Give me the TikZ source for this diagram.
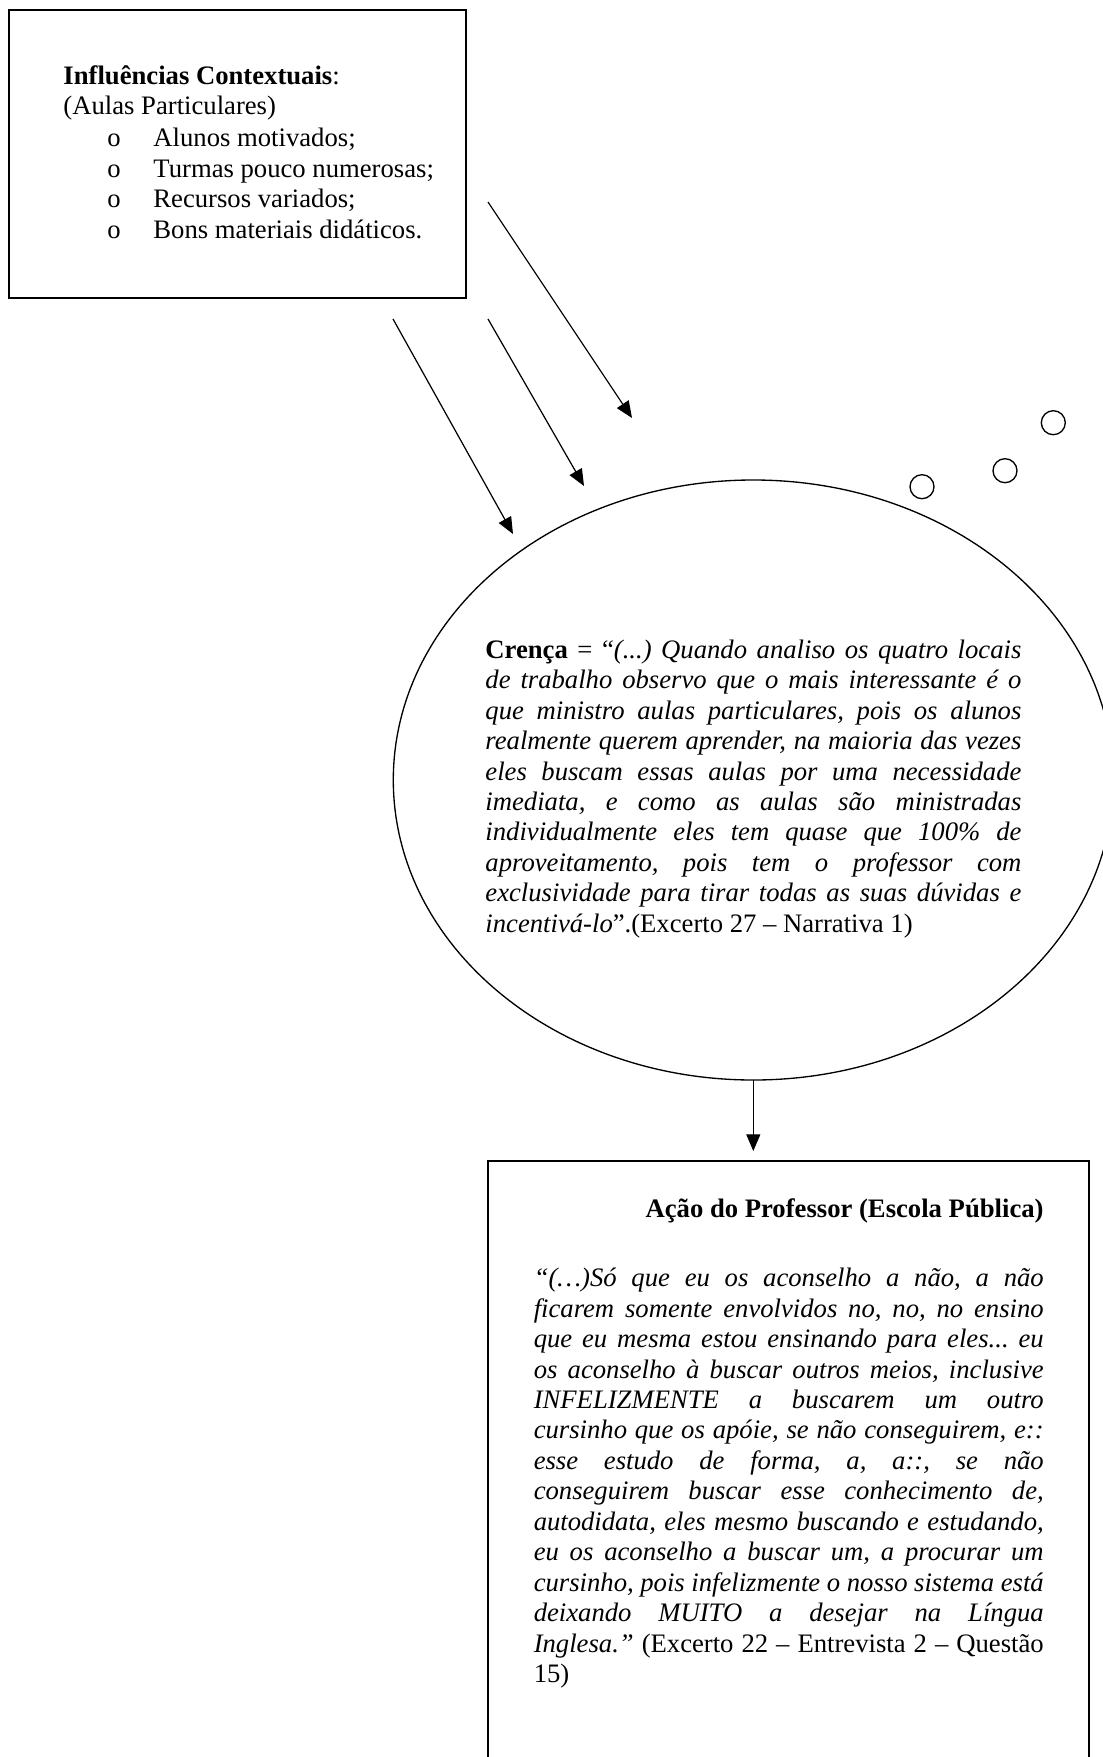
\documentclass[tikz,border=0pt]{standalone}
\usepackage{fontspec}
\setmainfont{Liberation Serif}
\usetikzlibrary{arrows.meta,shapes.geometric}

\frenchspacing
\tolerance=10000
\hbadness=10000
\hyphenpenalty=10000
\exhyphenpenalty=10000

\tikzset{
	caixa/.style={draw,line width=0.75pt,inner sep=0pt,outer sep=0pt},
	nuvem/.style={draw,ellipse,line width=0.6pt,inner sep=0pt,outer sep=0pt},
	bolha/.style={draw,circle,line width=0.6pt,inner sep=0pt,minimum size=10.8pt},
	seta/.style={-{Triangle[length=7.5pt,width=6.3pt]},line width=0.55pt},
	texto/.style={inner sep=0pt,font=\fontsize{12}{13.7}\selectfont},
	paragrafo/.style={texto,align=justify,anchor=base west}
}

\begin{document}
\begin{tikzpicture}[x=0.45pt,y=-0.45pt]

\def\LARGURA{1103}
\def\ALTURA{1757}
	\useasboundingbox (0,0) rectangle (\LARGURA,\ALTURA);
	\clip (0,0) rectangle (\LARGURA,\ALTURA);

	\node[caixa,minimum width=205.65pt,minimum height=129.6pt] (contexto) at (237.5,154) {};
	\node[texto,anchor=base west] (influencias) at (63,85) {\textbf{Influências Contextuais}:};
	\node[texto,anchor=base west] (aulas) at (63,115) {(Aulas Particulares)};
	\foreach \y/\txt [count=\i] in {147/Alunos motivados;,177/Turmas pouco numerosas;,207/Recursos variados;,238/Bons materiais didáticos.}{
		\node[texto,anchor=base west] (marca\i) at (107,\y) {o};
		\node[texto,anchor=base west] (item\i) at (153,\y) {\txt};
	}

	\coordinate (ini1) at (488,202);
	\coordinate (fim1) at (632,418);
	\coordinate (ini2) at (488,319);
	\coordinate (fim2) at (584,486);
	\coordinate (ini3) at (393,319);
	\coordinate (fim3) at (513,534);
	\draw[seta] (ini1) -- (fim1);
	\draw[seta] (ini2) -- (fim2);
	\draw[seta] (ini3) -- (fim3);

	\node[nuvem,minimum width=324pt,minimum height=270pt] (crenca) at (753.3,780) {};
	\node[bolha] (bolha1) at (922,486.7) {};
	\node[bolha] (bolha2) at (1005,470.7) {};
	\node[bolha] (bolha3) at (1053.3,422.7) {};

	\node[paragrafo,text width=241.2pt] (crencatexto) at (485,658.3) {\textbf{Crença} = “\textit{(...) Quando analiso os quatro locais\linebreak
de trabalho observo que o mais interessante é o\linebreak
que ministro aulas particulares, pois os alunos\linebreak
realmente querem aprender, na maioria das vezes\linebreak
eles buscam essas aulas por uma necessidade\linebreak
imediata, e como as aulas são ministradas\linebreak
individualmente eles tem quase que 100\% de\linebreak
aproveitamento, pois tem o professor com\linebreak
exclusividade para tirar todas as suas dúvidas e\linebreak
incentivá-lo}”.(Excerto 27 -- Narrativa 1)};

	\node[caixa,minimum width=270.3pt,minimum height=290pt,anchor=north] (acao) at (788.65,1161) {};
	\draw[seta,shorten >=4.5pt] (crenca.south) -- (crenca.south |- acao.north);

	\node[texto,anchor=base east] (acaotitulo) at (1044,1217) {\textbf{Ação do Professor (Escola Pública)}};
	\node[paragrafo,text width=229.5pt] (acaotexto) at (533.3,1286.7) {\textit{“(…)Só que eu os aconselho a não, a não\linebreak
ficarem somente envolvidos no, no, no ensino\linebreak
que eu mesma estou ensinando para eles... eu\linebreak
os aconselho à buscar outros meios, inclusive\linebreak
INFELIZMENTE a buscarem um outro\linebreak
cursinho que os apóie, se não conseguirem, e::\linebreak
esse estudo de forma, a, a::, se não\linebreak
conseguirem buscar esse conhecimento de,\linebreak
autodidata, eles mesmo buscando e estudando,\linebreak
eu os aconselho a buscar um, a procurar um\linebreak
cursinho, pois infelizmente o nosso sistema está\linebreak
deixando MUITO a desejar na Língua\linebreak
Inglesa.”} (Excerto 22 -- Entrevista 2 -- Questão\linebreak
15)};

\end{tikzpicture}
\end{document}
